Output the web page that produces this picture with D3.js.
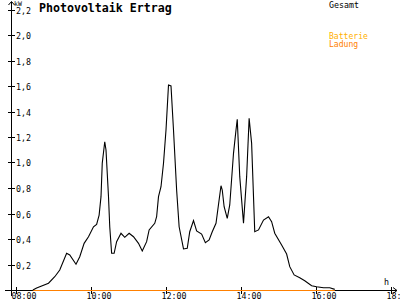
<!DOCTYPE html>
<html><head><meta charset="utf-8">
<script src="https://cdn.jsdelivr.net/npm/d3@7"></script>
<style>
html,body{margin:0;padding:0;background:#fff;}
svg{display:block;}
text{font-family:"DejaVu Sans Mono",monospace;}
</style></head>
<body><svg id="c" width="400" height="300"></svg>
<script>
const title = "Photovoltaik Ertrag";
const xTickLabels = ["08:00","10:00","12:00","14:00","16:00","18:00"];
const yTickValues = [0.2,0.4,0.6,0.8,1.0,1.2,1.4,1.6,1.8,2.0,2.2];
const legendLabels = ["Gesamt","Batterie","Ladung"];
const gesamtTimes = ["08:27","08:33","08:52","09:02","09:10","09:21","09:26","09:36","09:42","09:49","09:56","10:04","10:09","10:13","10:16","10:18","10:22","10:24","10:28","10:30","10:33","10:37","10:41","10:48","10:54","11:01","11:08","11:16","11:22","11:29","11:33","11:42","11:45","11:48","11:52","11:56","12:00","12:04","12:08","12:12","12:17","12:21","12:28","12:34","12:38","12:44","12:49","12:57","13:03","13:09","13:14","13:20","13:28","13:30","13:33","13:38","13:42","13:48","13:52","13:54","13:58","14:04","14:09","14:13","14:17","14:22","14:28","14:36","14:44","14:49","14:54","15:05","15:13","15:18","15:25","15:34","15:42","15:53","16:01","16:12","16:22","16:30"];
const gesamtValues = [0,0.016,0.053,0.104,0.157,0.288,0.275,0.202,0.261,0.366,0.418,0.496,0.515,0.588,0.732,0.994,1.163,1.098,0.732,0.496,0.288,0.288,0.379,0.445,0.413,0.445,0.418,0.366,0.306,0.379,0.471,0.523,0.575,0.732,0.81,0.994,1.255,1.608,1.6,1.255,0.784,0.496,0.322,0.327,0.457,0.544,0.463,0.439,0.371,0.392,0.457,0.523,0.818,0.784,0.653,0.562,0.667,1.072,1.255,1.339,0.889,0.523,0.889,1.347,1.15,0.457,0.471,0.549,0.575,0.536,0.445,0.353,0.282,0.183,0.118,0.096,0.073,0.034,0.026,0.018,0.018,0.005];
const ladungTimes = ["08:27","16:30"];
const ladungValues = [0,0];

const toMin = s => { const [h,m] = s.split(":").map(Number); return h*60+m; };
const svg = d3.select("#c");
const x = d3.scaleLinear().domain([toMin("08:00"), toMin("18:00")]).range([16, 391]);
const y = d3.scaleLinear().domain([0, 2.2]).range([290, 9.5]);

// axes lines
svg.append("line").attr("x1",5).attr("x2",397).attr("y1",290.5).attr("y2",290.5).attr("stroke","#000");
svg.append("line").attr("x1",11.5).attr("x2",11.5).attr("y1",2).attr("y2",296).attr("stroke","#000");
// arrows
svg.append("path").attr("d","M393,287.5 L397,290.5 L393,293.5").attr("fill","none").attr("stroke","#000");
svg.append("path").attr("d","M8.5,5 L11.5,1.5 L14.5,5").attr("fill","none").attr("stroke","#000");

// y ticks
yTickValues.forEach(v => {
  const yy = Math.round(y(v)) + 0.5;
  svg.append("line").attr("x1",8).attr("x2",15).attr("y1",yy).attr("y2",yy).attr("stroke","#000");
  svg.append("text").attr("x",16).attr("y",yy+3).attr("font-size",8.3).attr("fill","#000")
    .text(d3.format(".1f")(v).replace(".",","));
});
// x ticks
xTickLabels.forEach(l => {
  const xx = Math.round(x(toMin(l))) + 0.5;
  svg.append("line").attr("x1",xx).attr("x2",xx).attr("y1",287).attr("y2",294).attr("stroke","#000");
  svg.append("text").attr("x",xx-5).attr("y",299).attr("font-size",8.3).attr("fill","#000").text(l);
});
svg.append("text").attr("x",14).attr("y",6).attr("font-size",6.5).text("kW");
svg.append("text").attr("x",384).attr("y",285).attr("font-size",8.3).text("h");

// title
svg.append("text").attr("x",39).attr("y",12).attr("font-size",11.6).attr("font-weight","bold").text(title);

// legend
svg.append("text").attr("x",329).attr("y",8).attr("font-size",8.3).attr("fill","#000").text(legendLabels[0]);
svg.append("text").attr("x",329).attr("y",39).attr("font-size",8.1).attr("fill","#FFB000").text(legendLabels[1]);
svg.append("text").attr("x",329).attr("y",47).attr("font-size",8.1).attr("fill","#FF8000").text(legendLabels[2]);

const line = d3.line().x(d => x(toMin(d[0]))).y(d => y(d[1]));
svg.append("path").datum(ladungTimes.map((t,i)=>[t,ladungValues[i]]))
  .attr("d", d3.line().x(d => x(toMin(d[0]))).y(d => Math.round(y(d[1]))+0.5))
  .attr("fill","none").attr("stroke","#FF8000").attr("stroke-width",1.2);
svg.append("path").datum(gesamtTimes.map((t,i)=>[t,gesamtValues[i]]))
  .attr("d", line).attr("fill","none").attr("stroke","#000").attr("stroke-width",1.1);
</script></body></html>
